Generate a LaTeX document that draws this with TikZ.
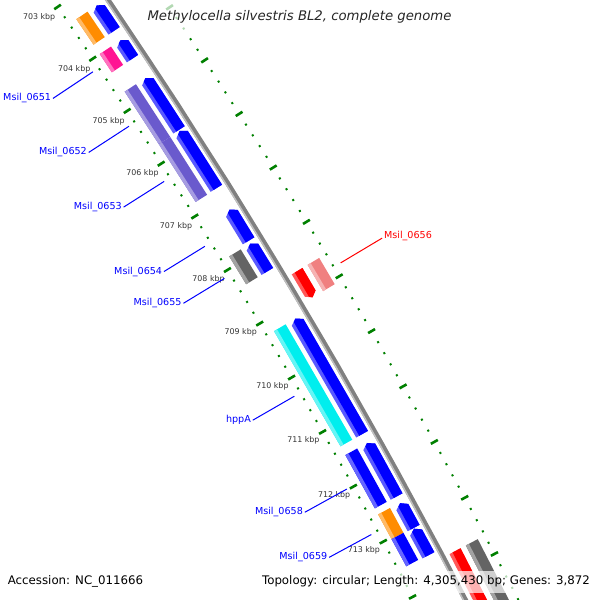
\documentclass[tikz,border=0pt]{standalone}
\usepackage{fontspec}
\setmainfont{DejaVu Sans}
\usepackage{tikz}

\definecolor{cdsblue}{RGB}{0,0,255}
\definecolor{cdsred}{RGB}{255,0,0}
\definecolor{cogorange}{RGB}{255,140,0}
\definecolor{cogpink}{RGB}{255,20,147}
\definecolor{cogpurple}{RGB}{106,90,205}
\definecolor{coggray}{RGB}{100,100,100}
\definecolor{cogcyan}{RGB}{0,238,238}
\definecolor{cogsalmon}{RGB}{240,128,128}
\definecolor{tickgreen}{RGB}{0,128,0}
\definecolor{backbonegray}{RGB}{128,128,128}

\begin{document}
\begin{tikzpicture}[x=0.5pt, y=-0.5pt,
        declare function={kang(\x)=-34.38+0.608*(\x-703); ring(\x)=5903+\x;},
        majortick/.style={draw=tickgreen, line width=1.3pt},
        minortick/.style={draw=tickgreen, line width=1pt},
        kbp/.style={font=\fontsize{3.95}{4}\selectfont, text=black!80, inner sep=0pt},
        tag/.style={font=\fontsize{4.8}{5}\selectfont, inner sep=0.75pt},
        tagline/.style={line width=0.5pt},
        banner/.style={fill=white, fill opacity=0.7, text opacity=1, inner sep=0pt}]

    \useasboundingbox (0,0) rectangle (600,600);
    \clip (0,0) rectangle (600,600);

    \begin{scope}[shift={(-4814,3340)}]

        % Tick rings
        \foreach \k in {702,...,715}{
            \draw[majortick] ({kang(\k)}:{ring(-4)}) -- ({kang(\k)}:{ring(4)});
            \draw[majortick] ({kang(\k)}:{ring(88.5)}) -- ({kang(\k)}:{ring(96.5)});
            \foreach \sub in {1,...,4}{
                \draw[minortick] ({kang(\k+\sub/5)}:{ring(-1)}) -- ({kang(\k+\sub/5)}:{ring(1)});
                \draw[minortick] ({kang(\k+\sub/5)}:{ring(91.5)}) -- ({kang(\k+\sub/5)}:{ring(93.5)});
            }
        }

        % Tick labels
        \foreach \k in {703,...,713}
            \node[kbp] (t\k) at ({kang(\k-0.03)}:{ring(-21)}) {\k\ kbp};

        % Backbone
        \draw[backbonegray, line width=2.5pt] plot[domain=702:716, samples=30] ({kang(\x)}:{ring(45.5)});
        \draw[black!25, line width=0.75pt] plot[domain=702:716, samples=30] ({kang(\x)}:{ring(43.6)});

        % Reverse strand, COG colours
        \foreach \st/\en/\col in {703.33/703.82/cogorange, 704.00/704.35/cogpink,
                704.72/705.72/cogpurple, 705.72/706.81/cogpurple, 707.83/708.35/coggray,
                709.22/711.34/cogcyan, 711.50/712.47/cdsblue, 712.58/713.03/cogorange,
                713.03/713.52/cdsblue}{
            \fill[fill=\col] ({kang(\st)}:{ring(8.5)}) -- ({kang(\en)}:{ring(8.5)})
                -- ({kang(\en)}:{ring(22)}) -- ({kang(\st)}:{ring(22)}) -- cycle;
            \fill[fill=\col!60!white] ({kang(\st)}:{ring(8.5)}) -- ({kang(\en)}:{ring(8.5)})
                -- ({kang(\en)}:{ring(12)}) -- ({kang(\st)}:{ring(12)}) -- cycle;
        }

        % Reverse strand, CDS arrows
        \foreach \st/\en in {703.33/703.82, 704.00/704.35, 704.72/705.70, 705.72/706.80,
                707.20/707.78, 707.83/708.35, 709.22/711.34, 711.50/712.47,
                712.59/713.04, 713.05/713.53}{
            \fill[cdsblue!65!white] ({kang(\st+0.07)}:{ring(26.5)}) -- ({kang(\en)}:{ring(26.5)})
                -- ({kang(\en)}:{ring(40)}) -- ({kang(\st+0.07)}:{ring(40)})
                -- ({kang(\st)}:{ring(33.25)}) -- cycle;
            \fill[cdsblue] ({kang(\st+0.034)}:{ring(30)}) -- ({kang(\en)}:{ring(30)})
                -- ({kang(\en)}:{ring(40)}) -- ({kang(\st+0.07)}:{ring(40)})
                -- ({kang(\st)}:{ring(33.25)}) -- cycle;
        }

        % Forward strand, CDS arrows
        \foreach \st/\en in {708.59/709.07, 713.67/716}{
            \fill[cdsred!65!white] ({kang(\st)}:{ring(52.5)}) -- ({kang(\en-0.07)}:{ring(52.5)})
                -- ({kang(\en)}:{ring(58.75)}) -- ({kang(\en-0.07)}:{ring(65)})
                -- ({kang(\st)}:{ring(65)}) -- cycle;
            \fill[cdsred] ({kang(\st)}:{ring(56)}) -- ({kang(\en-0.034)}:{ring(56)})
                -- ({kang(\en)}:{ring(58.75)}) -- ({kang(\en-0.07)}:{ring(65)})
                -- ({kang(\st)}:{ring(65)}) -- cycle;
        }

        % Forward strand, COG colours
        \foreach \st/\en/\col in {708.59/709.07/cogsalmon, 713.67/716/coggray}{
            \fill[fill=\col] ({kang(\st)}:{ring(71)}) -- ({kang(\en)}:{ring(71)})
                -- ({kang(\en)}:{ring(84.5)}) -- ({kang(\st)}:{ring(84.5)}) -- cycle;
            \fill[fill=\col!60!white] ({kang(\st)}:{ring(71)}) -- ({kang(\en)}:{ring(71)})
                -- ({kang(\en)}:{ring(74.5)}) -- ({kang(\st)}:{ring(74.5)}) -- cycle;
        }

        % Gene labels
        \foreach \id/\mid/\txt in {0651/704.175/Msil\_0651, 0652/705.22/Msil\_0652,
                0653/706.265/Msil\_0653, 0654/707.49/Msil\_0654, 0655/708.09/Msil\_0655,
                hppA/710.28/hppA, 0658/711.985/Msil\_0658, 0659/712.81/Msil\_0659}{
            \coordinate (g\id) at ({kang(\mid)}:{ring(-7)});
            \node[tag, text=blue, anchor=east] (l\id) at ({kang(\mid)}:{ring(-55)}) {\txt};
            \draw[tagline, blue] (g\id) -- (l\id.east);
        }

        \coordinate (g0656) at ({kang(708.83)}:{ring(100.5)});
        \node[tag, text=red, anchor=base west] (l0656) at ({kang(708.83)}:{ring(148.8)}) {Msil\_0656};
        \draw[tagline, red] (g0656) -- (l0656.base west);

    \end{scope}

    % Title and footer
    \node[banner, minimum width=156.5pt, minimum height=15.5pt, text=black!85,
        font=\itshape\fontsize{6.62}{7}\selectfont] (title) at (299.5,16.5)
        {Methylocella silvestris BL2, complete genome};
    \node[banner, minimum width=72pt, minimum height=11pt,
        font=\fontsize{5.9}{6}\selectfont] (accession) at (75.5,581.5) {Accession: NC\_011666};
    \node[banner, minimum width=169.5pt, minimum height=11pt,
        font=\fontsize{5.9}{6}\selectfont] (topology) at (426,581.5)
        {Topology: circular; Length: 4,305,430 bp; Genes: 3,872};

\end{tikzpicture}
\end{document}
